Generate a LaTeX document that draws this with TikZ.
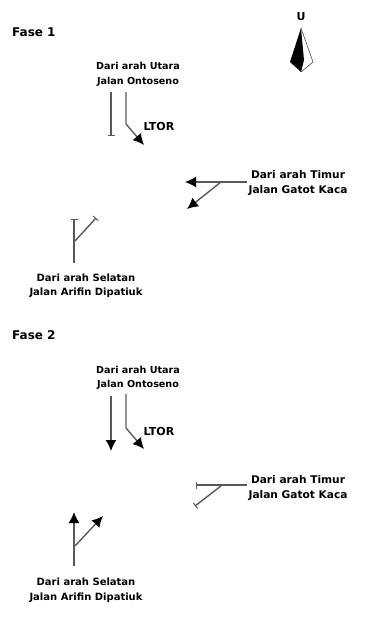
\documentclass[tikz,border=0pt]{standalone}
\usepackage{fontspec}
\setmainfont{DejaVu Sans}
\usetikzlibrary{arrows.meta}
\tikzset{
  x=1pt,y=-1pt,
  txt/.style={font=\bfseries\fontsize{#1}{14.5}\selectfont,align=center,inner sep=0pt,text=black},
  go/.style={draw=black!65,line width=1.4pt,-{Latex[length=11pt,width=11pt,black]}},
  stop/.style={draw=black!65,line width=1.4pt,-{Bar[width=7pt,line width=1pt]}}
}
\begin{document}
\begin{tikzpicture}
\useasboundingbox (0,0) rectangle (371,634);
% compass
\node[txt=11] (u) at (301,17) {U};
\coordinate (ca) at (301,28);
\coordinate (cl) at (290,62);
\coordinate (cb) at (301,72);
\coordinate (cr) at (313,62);
\coordinate (cc) at (304,60);
\fill[black] (ca) -- (cl) -- (cb) -- (cc) -- cycle;
\draw[black!70,line width=0.6pt] (ca) -- (cr) -- (cb);
% phase 1
\node[txt=12,anchor=west] (f1) at (12,32) {Fase 1};
\node[txt=9.6] (n1) at (138,74.5) {Dari arah Utara\\Jalan Ontoseno};
\coordinate (n1a) at (111,92); \coordinate (n1b) at (111,136);
\coordinate (n1c) at (126,92); \coordinate (n1d) at (126,124); \coordinate (n1e) at (144,145);
\draw[stop] (n1a) -- (n1b);
\draw[go] (n1c) -- (n1d) -- (n1e);
\node[txt=11] (l1) at (159,126) {LTOR};
\node[txt=10.6] (e1) at (298,183) {Dari arah Timur\\Jalan Gatot Kaca};
\coordinate (e1a) at (247,182); \coordinate (e1b) at (185,182);
\coordinate (e1c) at (221,182); \coordinate (e1d) at (187,209);
\draw[go] (e1a) -- (e1b);
\draw[go] (e1c) -- (e1d);
\node[txt=10] (s1) at (86,285.5) {Dari arah Selatan\\Jalan Arifin Dipatiuk};
\coordinate (s1a) at (74,263); \coordinate (s1b) at (74,219);
\coordinate (s1c) at (75,241); \coordinate (s1d) at (96,218);
\draw[stop] (s1a) -- (s1b);
\draw[stop] (s1c) -- (s1d);
% phase 2
\node[txt=12,anchor=west] (f2) at (12,335) {Fase 2};
\node[txt=9.6] (n2) at (138,378) {Dari arah Utara\\Jalan Ontoseno};
\coordinate (n2a) at (111,396); \coordinate (n2b) at (111,451);
\coordinate (n2c) at (126,394); \coordinate (n2d) at (126,428); \coordinate (n2e) at (144,449);
\draw[go] (n2a) -- (n2b);
\draw[go] (n2c) -- (n2d) -- (n2e);
\node[txt=11] (l2) at (159,431) {LTOR};
\node[txt=10.6] (e2) at (298,488) {Dari arah Timur\\Jalan Gatot Kaca};
\coordinate (e2a) at (247,485); \coordinate (e2b) at (196,485);
\coordinate (e2c) at (221,486); \coordinate (e2d) at (195,506);
\draw[stop] (e2a) -- (e2b);
\draw[stop] (e2c) -- (e2d);
\node[txt=10] (s2) at (86,590) {Dari arah Selatan\\Jalan Arifin Dipatiuk};
\coordinate (s2a) at (74,566); \coordinate (s2b) at (74,512);
\coordinate (s2c) at (75,546); \coordinate (s2d) at (103,516);
\draw[go] (s2a) -- (s2b);
\draw[go] (s2c) -- (s2d);
\end{tikzpicture}
\end{document}
